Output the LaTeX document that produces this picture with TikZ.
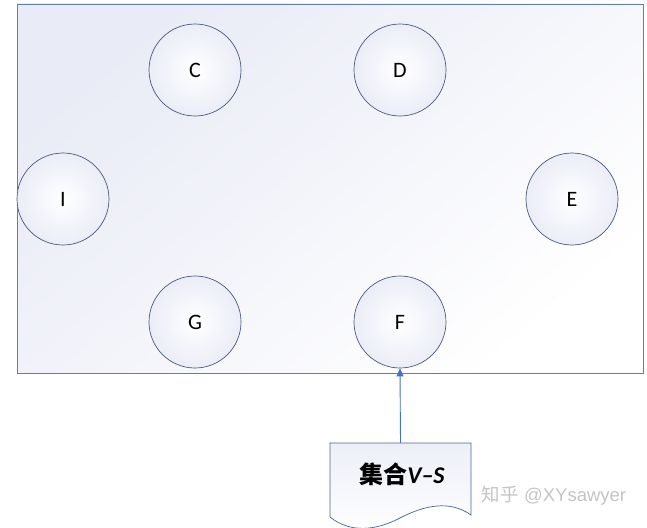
\documentclass[tikz,border=0pt]{standalone}
\usepackage{fontspec}
\setmainfont{Carlito}
\newfontfamily\cjk{Noto Sans CJK SC}
\newfontfamily\wmfont{Liberation Sans}
\usetikzlibrary{arrows.meta}
\definecolor{lav}{HTML}{E9EBF6}
\definecolor{lavc}{HTML}{EBEDF7}
\definecolor{frameblue}{HTML}{5F7DB6}
\definecolor{circline}{HTML}{4A5A7A}
\definecolor{arrowblue}{HTML}{4472C4}
\definecolor{wm}{HTML}{C4C4C4}
\tikzset{
  vert/.style={circle, draw=circline, line width=0.7pt, minimum size=92pt, inner sep=0pt,
    inner color=white, outer color=lavc, font=\fontsize{22}{24}\selectfont},
  frame/.style={draw=frameblue, line width=0.8pt, top color=lav, bottom color=white, shading angle=40},
  docshape/.style={draw=frameblue!80!black, line width=0.7pt, top color=lav!80, bottom color=white},
  link/.style={draw=arrowblue, line width=0.9pt, -{Triangle[length=8pt,width=7pt]}}
}
\begin{document}
\begin{tikzpicture}[x=1pt,y=-1pt]
\useasboundingbox (0,0) rectangle (647,527);
\path[frame] (17,4) rectangle (643,373);
\node[vert] (C) at (195,70) {C};
\node[vert] (D) at (400,70) {D};
\node[vert] (I) at (63,199) {I};
\node[vert] (E) at (572,199) {E};
\node[vert] (G) at (195,322) {G};
\node[vert] (F) at (400,322) {F};
\path[docshape] (330,443) -- (471,443) -- (471,515)
  .. controls (450,500) and (425,505) .. (400,518)
  .. controls (375,531) and (350,533) .. (330,517) -- cycle;
\node[minimum width=141pt, minimum height=74pt, inner sep=0pt] (doc) at (400.5,480) {};
\node[font=\fontsize{24}{26}\selectfont] (lbl) at (402,474) {{\cjk\bfseries 集合}{\rmfamily\bfseries\itshape V–S}};
\draw[link] (doc.north) -- (F.south);
\node[text=wm, font=\wmfont\fontsize{18.5}{20}\selectfont] (wmk) at (554,496) {{\cjk 知乎} @XYsawyer};
\end{tikzpicture}
\end{document}
